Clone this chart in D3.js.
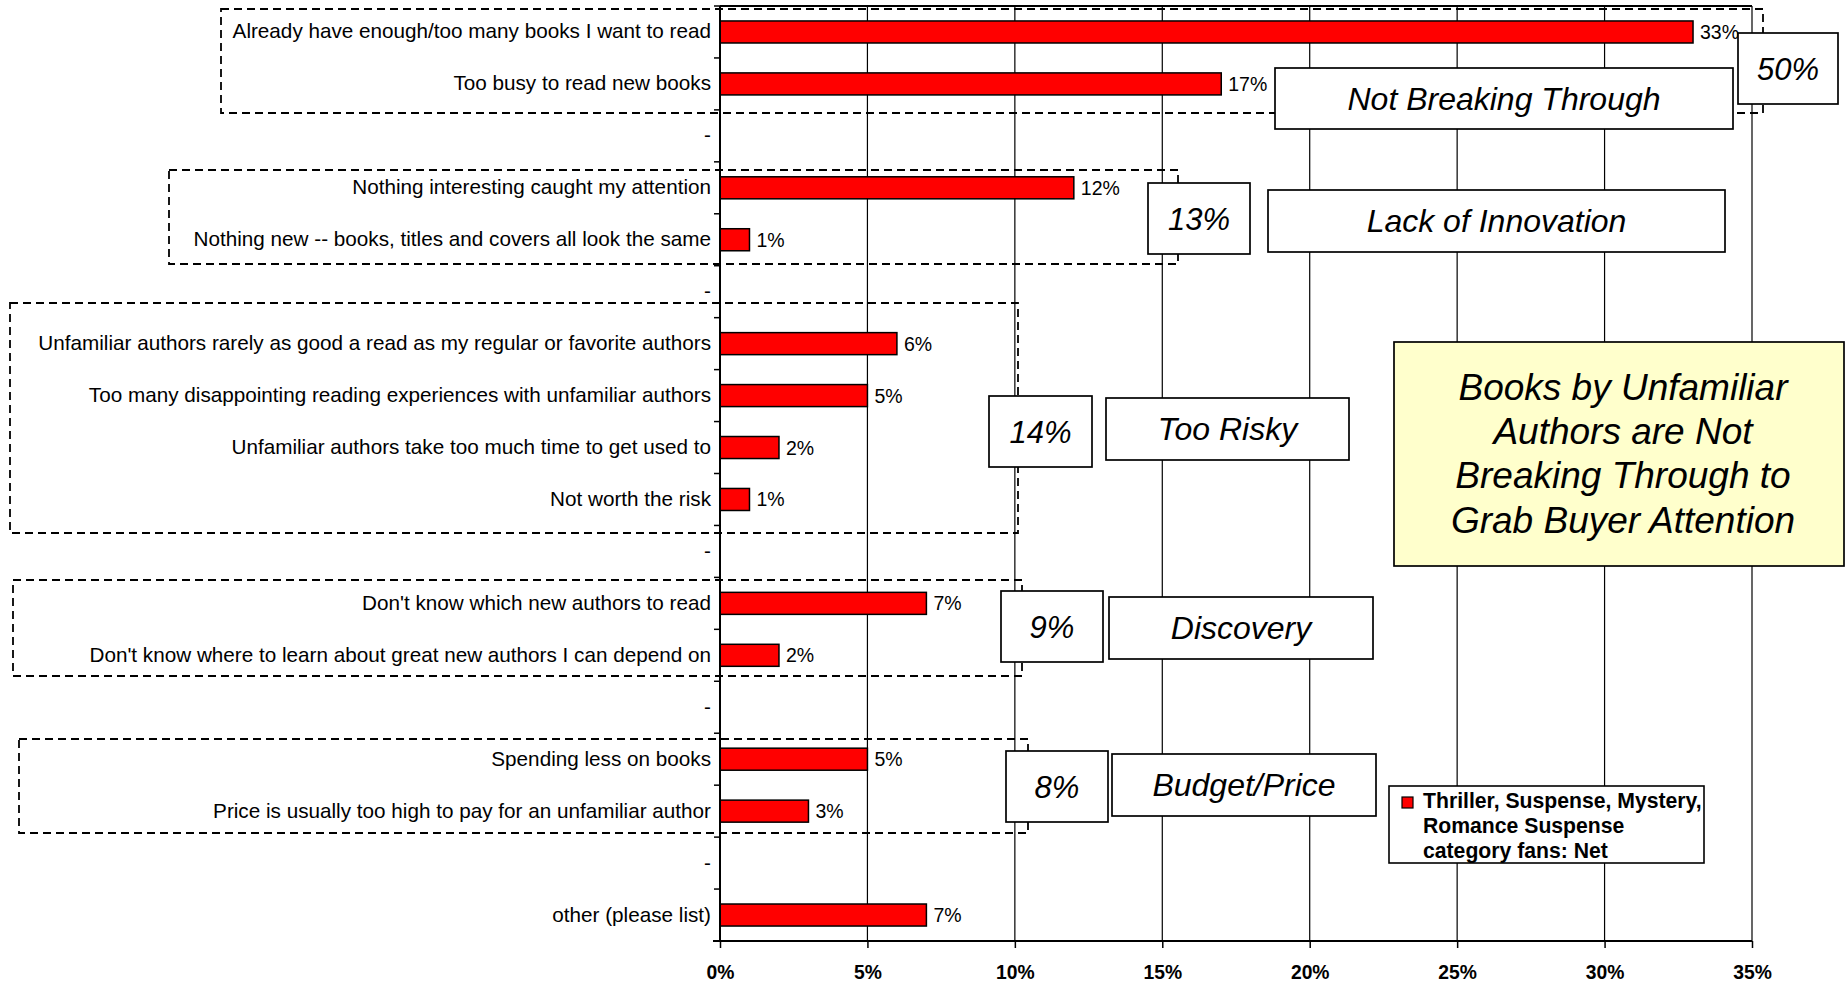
<!DOCTYPE html>
<html>
<head>
<meta charset="utf-8">
<script src="https://cdn.jsdelivr.net/npm/d3@7/dist/d3.min.js"></script>
<style>
  html, body { margin: 0; padding: 0; background: #fff; }
  svg { display: block; font-family: "Liberation Sans", Arial, sans-serif; }
</style>
</head>
<body>
<svg id="chart" width="1845" height="983"></svg>
<script>
// Reasons for not trying unfamiliar authors (share of respondents, %)
const categories = [
  "Already have enough/too many books I want to read",
  "Too busy to read new books",
  "-",
  "Nothing interesting caught my attention",
  "Nothing new -- books, titles and covers all look the same",
  "-",
  "Unfamiliar authors rarely as good a read as my regular or favorite authors",
  "Too many disappointing reading experiences with unfamiliar authors",
  "Unfamiliar authors take too much time to get used to",
  "Not worth the risk",
  "-",
  "Don't know which new authors to read",
  "Don't know where to learn about great new authors I can depend on",
  "-",
  "Spending less on books",
  "Price is usually too high to pay for an unfamiliar author",
  "-",
  "other (please list)"
];
const values = [33, 17, null, 12, 1, null, 6, 5, 2, 1, null, 7, 2, null, 5, 3, null, 7];

const xTicks = [0, 5, 10, 15, 20, 25, 30, 35];
const xTickLabels = ["0%", "5%", "10%", "15%", "20%", "25%", "30%", "35%"];

const groupNames = ["Not Breaking Through", "Lack of Innovation", "Too Risky", "Discovery", "Budget/Price"];
const groupTotals = [50, 13, 14, 9, 8];

const seriesName = ["Thriller, Suspense, Mystery,", "Romance Suspense", "category fans: Net"];

const headline = ["Books by Unfamiliar", "Authors are Not", "Breaking Through to", "Grab Buyer Attention"];

// ---- layout ----
const svg = d3.select("#chart");
const plotTop = 6, plotBottom = 941, plotLeft = 720, plotRight = 1752;

const x = d3.scaleLinear().domain([0, 35]).range([plotLeft, plotRight]);
const y = d3.scaleBand()
  .domain(d3.range(categories.length))
  .range([plotTop, plotBottom])
  .paddingInner(0.576)
  .paddingOuter(0.288);

const step = y.step();
const bandTop = i => plotTop + step * i;

// dashed group frames [x0, y0, x1, y1]
const frames = [
  [221, 9, 1763, 113],
  [169, 170, 1178, 264],
  [10, 303, 1018, 533],
  [13, 580, 1022, 676],
  [19, 739, 1028, 833]
];
// total box and title box per group [x, y, w, h]
const totalBoxes = [
  [1738, 33, 100, 71],
  [1148, 183, 102, 71],
  [989, 396, 103, 71],
  [1001, 591, 102, 71],
  [1006, 751, 102, 71]
];
const titleBoxes = [
  [1275, 68, 458, 61],
  [1268, 190, 457, 62],
  [1106, 398, 243, 62],
  [1109, 597, 264, 62],
  [1112, 754, 264, 62]
];

// ---- gridlines ----
svg.append("g")
  .selectAll("line")
  .data(xTicks.slice(1))
  .join("line")
  .attr("x1", d => x(d)).attr("x2", d => x(d))
  .attr("y1", plotTop).attr("y2", plotBottom)
  .attr("stroke", "#000").attr("stroke-width", 1.2);

// plot top border
svg.append("line")
  .attr("x1", x(0)).attr("x2", x(35))
  .attr("y1", plotTop).attr("y2", plotTop)
  .attr("stroke", "#000").attr("stroke-width", 2);

// ---- dashed group frames ----
svg.append("g")
  .selectAll("rect")
  .data(frames)
  .join("rect")
  .attr("x", d => d[0]).attr("y", d => d[1])
  .attr("width", d => d[2] - d[0]).attr("height", d => d[3] - d[1])
  .attr("fill", "none")
  .attr("stroke", "#000")
  .attr("stroke-width", 1.8)
  .attr("stroke-dasharray", "8,5");

// ---- bars ----
const rows = categories.map((c, i) => ({ i, label: c, v: values[i] }));
const barRows = rows.filter(r => r.v !== null);

svg.append("g")
  .selectAll("rect")
  .data(barRows)
  .join("rect")
  .attr("x", x(0))
  .attr("y", r => y(r.i))
  .attr("width", r => x(r.v) - x(0))
  .attr("height", y.bandwidth())
  .attr("fill", "#ff0000")
  .attr("stroke", "#000")
  .attr("stroke-width", 1.5);

// value labels
svg.append("g")
  .selectAll("text")
  .data(barRows)
  .join("text")
  .attr("x", r => x(r.v) + 7)
  .attr("y", r => y(r.i) + y.bandwidth() / 2 + 7)
  .attr("font-size", 19.5)
  .attr("fill", "#000")
  .text(r => r.v + "%");

// ---- category axis ----
const yAxis = svg.append("g");
yAxis.append("line")
  .attr("x1", plotLeft).attr("x2", plotLeft)
  .attr("y1", plotTop).attr("y2", plotBottom)
  .attr("stroke", "#000").attr("stroke-width", 2);
yAxis.selectAll("line.tick")
  .data(d3.range(categories.length + 1))
  .join("line")
  .attr("class", "tick")
  .attr("x1", plotLeft - 6).attr("x2", plotLeft)
  .attr("y1", i => bandTop(i)).attr("y2", i => bandTop(i))
  .attr("stroke", "#000").attr("stroke-width", 1.5);
yAxis.selectAll("text")
  .data(rows)
  .join("text")
  .attr("x", plotLeft - 9)
  .attr("y", r => y(r.i) + y.bandwidth() / 2 + 6.5)
  .attr("text-anchor", "end")
  .attr("font-size", 20.7)
  .attr("fill", "#000")
  .text(r => r.label);

// ---- value axis ----
const xAxis = svg.append("g")
  .attr("transform", `translate(0,${plotBottom})`)
  .call(d3.axisBottom(x)
    .tickValues(xTicks)
    .tickFormat((d, i) => xTickLabels[i])
    .tickSize(7)
    .tickSizeOuter(0)
    .tickPadding(17.5));
xAxis.select(".domain").attr("stroke", "#000").attr("stroke-width", 2.2)
  .attr("d", `M${plotLeft - 7},0H${plotRight}`);
xAxis.selectAll(".tick line").attr("stroke", "#000").attr("stroke-width", 1.5);
xAxis.selectAll(".tick text")
  .attr("font-family", "'Liberation Sans', Arial, sans-serif")
  .attr("font-size", 19.3)
  .attr("font-weight", "bold")
  .attr("fill", "#000");

// ---- group annotations ----
const boxStyle = sel => sel
  .attr("fill", "#fff")
  .attr("stroke", "#000")
  .attr("stroke-width", 1.7);

const notes = svg.append("g");
groupNames.forEach((name, k) => {
  const [tx, ty, tw, th] = totalBoxes[k];
  notes.append("rect").attr("x", tx).attr("y", ty).attr("width", tw).attr("height", th).call(boxStyle);
  notes.append("text")
    .attr("x", tx + tw / 2).attr("y", ty + th / 2 + 11)
    .attr("text-anchor", "middle")
    .attr("font-size", 31).attr("font-style", "italic")
    .text(groupTotals[k] + "%");

  const [bx, by, bw, bh] = titleBoxes[k];
  notes.append("rect").attr("x", bx).attr("y", by).attr("width", bw).attr("height", bh).call(boxStyle);
  notes.append("text")
    .attr("x", bx + bw / 2).attr("y", by + bh / 2 + 11)
    .attr("text-anchor", "middle")
    .attr("font-size", 32).attr("font-style", "italic")
    .text(name);
});

// ---- headline call-out ----
const callout = svg.append("g");
callout.append("rect")
  .attr("x", 1394).attr("y", 342).attr("width", 450).attr("height", 224)
  .attr("fill", "#ffffcc").attr("stroke", "#000").attr("stroke-width", 1.7);
callout.selectAll("text")
  .data(headline)
  .join("text")
  .attr("x", 1623)
  .attr("y", (d, i) => 400 + i * 44.2)
  .attr("text-anchor", "middle")
  .attr("font-size", 37)
  .attr("font-style", "italic")
  .text(d => d);

// ---- legend ----
const legend = svg.append("g");
legend.append("rect")
  .attr("x", 1389).attr("y", 786).attr("width", 315).attr("height", 77)
  .attr("fill", "#fff").attr("stroke", "#000").attr("stroke-width", 1.6);
legend.append("rect")
  .attr("x", 1402).attr("y", 797).attr("width", 11).attr("height", 11)
  .attr("fill", "#ff0000").attr("stroke", "#000").attr("stroke-width", 1.2);
legend.selectAll("text.item")
  .data(seriesName)
  .join("text")
  .attr("class", "item")
  .attr("x", 1423)
  .attr("y", (d, i) => 808 + i * 25)
  .attr("font-size", 21.2)
  .attr("font-weight", "bold")
  .text(d => d);
</script>
</body>
</html>
